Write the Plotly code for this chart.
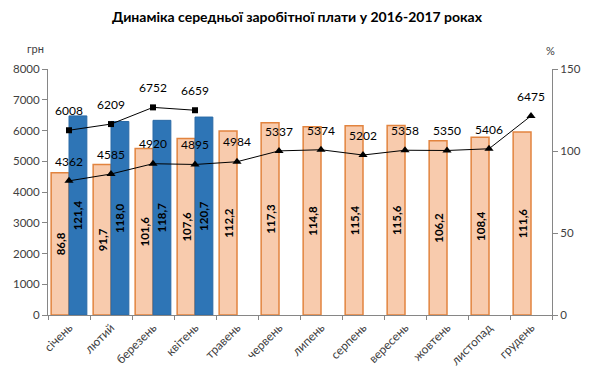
import plotly.graph_objects as go

months = ["січень", "лютий", "березень", "квітень", "травень", "червень",
          "липень", "серпень", "вересень", "жовтень", "листопад", "грудень"]
pct_2016 = [86.8, 91.7, 101.6, 107.6, 112.2, 117.3, 114.8, 115.4, 115.6, 106.2, 108.4, 111.6]
pct_2017 = [121.4, 118.0, 118.7, 120.7]
wage_2016 = [4362, 4585, 4920, 4895, 4984, 5337, 5374, 5202, 5358, 5350, 5406, 6475]
wage_2017 = [6008, 6209, 6752, 6659]

def fmt(v):
    return f"{v:.1f}".replace(".", ",")

FONT = "Lato, 'Liberation Sans', Arial, sans-serif"
TXT = "#404040"

fig = go.Figure()
fig.add_trace(go.Bar(
    x=months, y=pct_2016, yaxis="y", name="2016 %",
    marker=dict(color="#F8CBAD", line=dict(color="#E2843F", width=1.5)),
    text=[fmt(v) for v in pct_2016], textposition="inside", insidetextanchor="middle",
    textangle=-90, constraintext="none",
    textfont=dict(family=FONT, size=11.5, color="#000000", weight="bold"),
))
fig.add_trace(go.Bar(
    x=months[:len(pct_2017)], y=pct_2017, yaxis="y", name="2017 %",
    marker=dict(color="#2E75B6", line=dict(color="#2A6AA6", width=1)),
    text=[fmt(v) for v in pct_2017], textposition="inside", insidetextanchor="middle",
    textangle=-90, constraintext="none",
    textfont=dict(family=FONT, size=11.5, color="#000000", weight="bold"),
))

for xs, ys, sym, msize in [(months, wage_2016, "triangle-up", 8),
                            (months[:len(wage_2017)], wage_2017, "square", 6)]:
    fig.add_trace(go.Scatter(
        x=xs, y=ys, yaxis="y2", mode="lines+markers",
        line=dict(color="#000000", width=1),
        marker=dict(symbol=sym, size=msize, color="#000000"),
        hoverinfo="skip",
    ))
    # value labels, lifted a little above the markers
    fig.add_trace(go.Scatter(
        x=xs, y=ys, yaxis="y2", mode="markers+text",
        marker=dict(size=18, color="rgba(0,0,0,0)"),
        text=[str(v) for v in ys], textposition="top center",
        textfont=dict(family=FONT, size=12, color="#000000"),
        hoverinfo="skip",
    ))

fig.update_layout(
    width=600, height=371,
    margin=dict(l=48, r=48, t=69, b=56),
    paper_bgcolor="white", plot_bgcolor="white",
    showlegend=False,
    barmode="group", bargap=0.15, bargroupgap=0,
    font=dict(family=FONT, size=11, color=TXT),
    title=dict(text="<b>Динаміка середньої заробітної плати у 2016-2017 роках</b>",
               x=0.495, xanchor="center", y=0.953, yanchor="middle",
               font=dict(family=FONT, size=14, color="#000000")),
    xaxis=dict(type="category", range=[-0.5, len(months) - 0.5], autorange=False,
               tickangle=-45, tickson="boundaries",
               ticks="outside", ticklen=4, tickcolor="#868686",
               showline=True, linecolor="#868686", linewidth=1,
               showgrid=False, tickfont=dict(size=12, color=TXT), automargin=False),
    yaxis=dict(side="right", range=[0, 150], dtick=50,
               ticks="outside", ticklen=5, tickcolor="#868686",
               showline=True, linecolor="#868686", showgrid=False, zeroline=False,
               tickfont=dict(size=11.5, color=TXT), automargin=False),
    yaxis2=dict(side="left", overlaying="y", range=[0, 8000], dtick=1000,
                ticks="outside", ticklen=5, tickcolor="#868686",
                showline=True, linecolor="#868686", showgrid=False, zeroline=False,
                tickfont=dict(size=11.5, color=TXT), automargin=False),
    annotations=[
        dict(text="грн", xref="paper", yref="paper", x=-0.025, y=1.085,
             showarrow=False, font=dict(size=11, color=TXT), xanchor="center", yanchor="middle"),
        dict(text="%", xref="paper", yref="paper", x=0.998, y=1.075,
             showarrow=False, font=dict(size=11, color=TXT), xanchor="center", yanchor="middle"),
    ],
)

fig.write_html("out.html", config={"displayModeBar": False},
               post_script="document.body.style.margin='0';")
